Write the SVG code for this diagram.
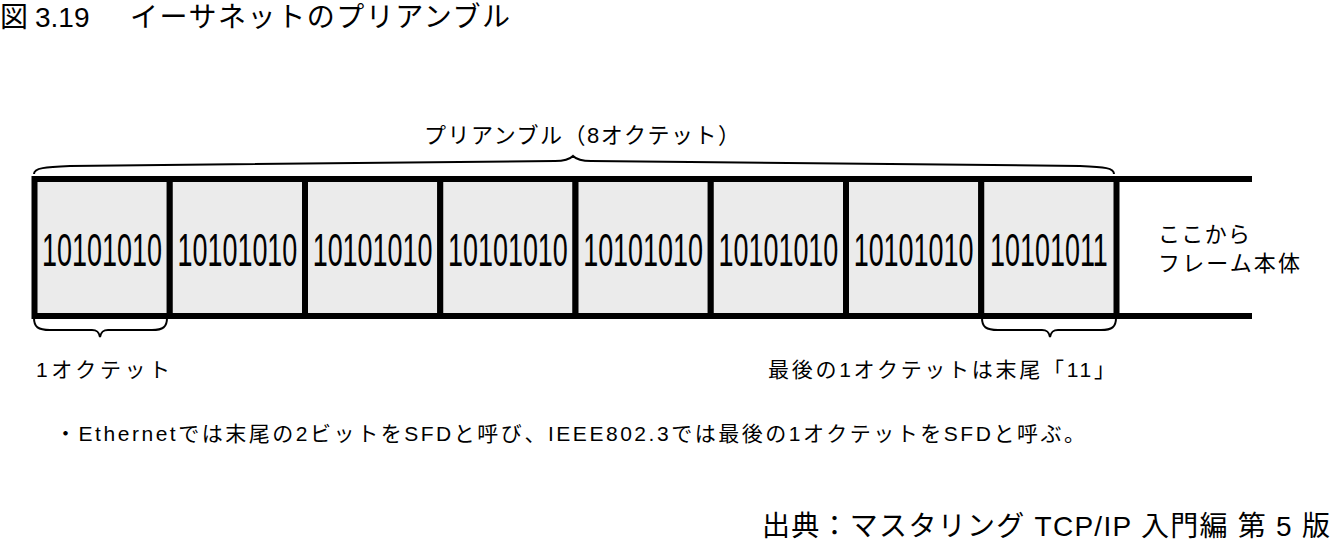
<svg xmlns="http://www.w3.org/2000/svg" width="1332" height="540" viewBox="0 0 1332 540">
<style>
.box{fill:#ebebeb;stroke:#000;stroke-width:6}
.bits{font-family:"Liberation Sans",sans-serif;font-size:46px;fill:#000;text-anchor:middle}
.t{font-family:"Liberation Sans","Noto Sans CJK JP",sans-serif;fill:#000}
.brace{fill:none;stroke:#000;stroke-width:2}
.line{stroke:#000;stroke-width:6;fill:none}
</style>
<rect width="1332" height="540" fill="#fff"/>
<g id="title">
<text class="t" font-size="28" x="0" y="27">図</text>
<text class="t" font-size="28" x="35" y="27">3.19</text>
<text class="t" font-size="28" x="130" y="27" textLength="380">イーサネットのプリアンブル</text>
</g>
<g id="connectors">
<line class="line" x1="1116" y1="179" x2="1252" y2="179"/>
<line class="line" x1="1116" y1="316" x2="1252" y2="316"/>
<path class="brace" d="M34,174 C34,168 45,167 70,166 L555,161 C566,161 570,159 573,156 C576,159 580,161 591,161 L1080,166 C1105,167 1114,168 1114,174"/>
<path class="brace" d="M34,318 C34,327 38,330 50,330 L92,330 C97,330 99,332 100,337 C101,332 103,330 108,330 L152,330 C163,330 167,327 167,318"/>
<path class="brace" d="M982,318 C982,327 986,330 998,330 L1042,330 C1047,330 1049,332 1050,337 C1051,332 1053,330 1058,330 L1101,330 C1112,330 1116,327 1116,318"/>
</g>
<g id="octet1"><rect class="box" x="34.5" y="179" width="135.25" height="137"/><text class="bits" transform="translate(102,266) scale(0.586,1)">10101010</text></g>
<g id="octet2"><rect class="box" x="169.75" y="179" width="135.25" height="137"/><text class="bits" transform="translate(237.4,266) scale(0.586,1)">10101010</text></g>
<g id="octet3"><rect class="box" x="305" y="179" width="135.25" height="137"/><text class="bits" transform="translate(372.6,266) scale(0.586,1)">10101010</text></g>
<g id="octet4"><rect class="box" x="440.25" y="179" width="135.25" height="137"/><text class="bits" transform="translate(507.9,266) scale(0.586,1)">10101010</text></g>
<g id="octet5"><rect class="box" x="575.5" y="179" width="135.25" height="137"/><text class="bits" transform="translate(643.1,266) scale(0.586,1)">10101010</text></g>
<g id="octet6"><rect class="box" x="710.75" y="179" width="135.25" height="137"/><text class="bits" transform="translate(778.4,266) scale(0.586,1)">10101010</text></g>
<g id="octet7"><rect class="box" x="846" y="179" width="135.25" height="137"/><text class="bits" transform="translate(913.6,266) scale(0.586,1)">10101010</text></g>
<g id="octet8"><rect class="box" x="981.25" y="179" width="135.25" height="137"/><text class="bits" transform="translate(1048.9,266) scale(0.586,1)">10101011</text></g>
<g id="label-preamble"><text class="t" font-size="22" x="424" y="143" textLength="316">プリアンブル（8オクテット）</text></g>
<g id="label-body"><text class="t" font-size="22" x="1158" y="242" textLength="92">ここから</text><text class="t" font-size="22" x="1158" y="271" textLength="142">フレーム本体</text></g>
<g id="label-1octet"><text class="t" font-size="21" x="36" y="377" textLength="134">1オクテット</text></g>
<g id="label-last"><text class="t" font-size="21" x="768" y="377" textLength="347">最後の1オクテットは末尾「11」</text></g>
<g id="note"><text class="t" font-size="21" x="55" y="441" textLength="1030">・Ethernetでは末尾の2ビットをSFDと呼び、IEEE802.3では最後の1オクテットをSFDと呼ぶ。</text></g>
<g id="source"><text class="t" font-size="28" x="762" y="536" textLength="568">出典：マスタリング TCP/IP 入門編 第 5 版</text></g>
</svg>
